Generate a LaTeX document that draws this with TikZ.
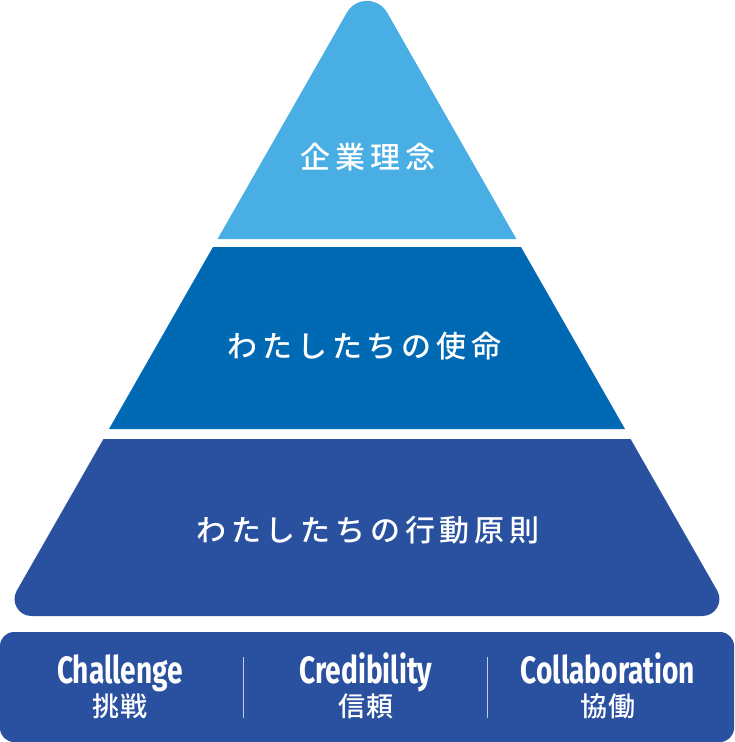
\documentclass[tikz,border=0pt]{standalone}
\usepackage{fontspec}
\usepackage{xcolor}
\newfontfamily\jpfont{Noto Sans CJK JP Medium}[LetterSpace=16]
\newfontfamily\jpsmall{Noto Sans CJK JP Medium}[LetterSpace=2]
\newfontfamily\condfont{Fira Sans}[FakeStretch=0.74]
\usetikzlibrary{positioning}

\definecolor{toplight}{HTML}{48AEE4}
\definecolor{midblue}{HTML}{0069B4}
\definecolor{darkblue}{HTML}{2A50A0}

\begin{document}
\begin{tikzpicture}[
          x=1pt, y=-1pt,
          tier/.style={font=\jpfont\fontsize{30}{32}\selectfont, text=white, inner sep=0pt},
          valname/.style={font=\condfont\bfseries\fontsize{38}{40}\selectfont, text=white, inner sep=0pt, anchor=base},
          valjp/.style={font=\jpsmall\fontsize{27}{29}\selectfont, text=white, inner sep=0pt},
          sep/.style={draw=white!70!darkblue, line width=1pt},
        ]
          \useasboundingbox (0,0) rectangle (734,742);

          %% pyramid — top tier with rounded apex
          \fill[toplight] (217.6,239) -- (346.8,12.7)
                .. controls (355.7,-3.0) and (378.3,-3.0) .. (387.2,12.7)
                -- (516.4,239) -- cycle;
          %% middle tier
          \fill[midblue] (213,247) -- (521,247) -- (625,429) -- (109,429) -- cycle;
          %% bottom tier — rounded lower corners
          \fill[darkblue] (103.4,439) -- (630.6,439) -- (717.2,590.6)
                .. controls (723.7,601.9) and (715.5,616) .. (702.4,616)
                -- (31.6,616)
                .. controls (18.5,616) and (10.3,601.9) .. (16.8,590.6) -- cycle;

          %% base bar
          \fill[darkblue, rounded corners=14pt] (0,632) rectangle (734,742);

          %% tier labels
          \node[tier] (philosophy) at (368,157) {企業理念};
          \node[tier] (mission)    at (364.5,346) {わたしたちの使命};
          \node[tier] (principles) at (368,530) {わたしたちの行動原則};

          %% values on the base bar
          \node[valname] (challenge)     at (120,683) {Challenge};
          \node[valname] (credibility)   at (366,683) {Credibility};
          \node[valname] (collaboration) at (608,683) {Collaboration};
          \node[valjp] (challengejp)     at (120,706) {挑戦};
          \node[valjp] (credibilityjp)   at (366,706) {信頼};
          \node[valjp] (collaborationjp) at (608,706) {協働};

          %% separators
          \draw[sep] (243.5,657) -- (243.5,718);
          \draw[sep] (487.5,657) -- (487.5,718);
        \end{tikzpicture}
\end{document}
